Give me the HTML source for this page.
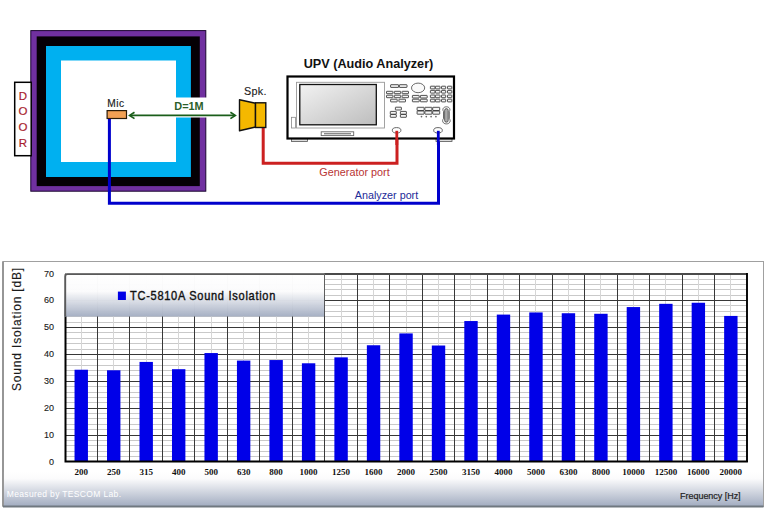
<!DOCTYPE html><html><head><meta charset="utf-8"><style>html,body{margin:0;padding:0;background:#fff;width:773px;height:517px;overflow:hidden}svg{display:block}</style></head><body>
<svg width="773" height="517" viewBox="0 0 773 517">
<defs><linearGradient id="lg" x1="0" y1="0" x2="0" y2="1"><stop offset="0" stop-color="#ffffff"/><stop offset="0.42" stop-color="#fbfbfc"/><stop offset="1" stop-color="#a5afc3"/></linearGradient><linearGradient id="bg" x1="0" y1="0" x2="0" y2="1"><stop offset="0" stop-color="#ffffff"/><stop offset="0.2" stop-color="#fbfbfc"/><stop offset="1" stop-color="#a3adc1"/></linearGradient><linearGradient id="scr" x1="0" y1="0" x2="1" y2="1"><stop offset="0" stop-color="#f2f2f2"/><stop offset="1" stop-color="#bdbdbd"/></linearGradient></defs>
<rect x="30.8" y="30.6" width="175" height="160.6" fill="#7030a0" stroke="#1a0530" stroke-width="1"/>
<rect x="36.7" y="36.4" width="163.1" height="149.7" fill="#050005"/>
<rect x="46" y="46" width="144.9" height="131" fill="#00b0f0"/>
<rect x="61" y="60.5" width="115" height="101.5" fill="#ffffff"/>
<rect x="170" y="97.5" width="40" height="20" fill="#ffffff"/>
<rect x="14.7" y="82.3" width="16.5" height="73.4" fill="#ffffff" stroke="#000" stroke-width="1.5"/>
<text x="23" y="99.9" font-family='"Liberation Sans", sans-serif' font-size="11.5" fill="#a81c2c" stroke="#a81c2c" stroke-width="0.18" text-anchor="middle">D</text>
<text x="23" y="115.2" font-family='"Liberation Sans", sans-serif' font-size="11.5" fill="#a81c2c" stroke="#a81c2c" stroke-width="0.18" text-anchor="middle">O</text>
<text x="23" y="131.2" font-family='"Liberation Sans", sans-serif' font-size="11.5" fill="#a81c2c" stroke="#a81c2c" stroke-width="0.18" text-anchor="middle">O</text>
<text x="23" y="146.9" font-family='"Liberation Sans", sans-serif' font-size="11.5" fill="#a81c2c" stroke="#a81c2c" stroke-width="0.18" text-anchor="middle">R</text>
<text x="107.2" y="107" font-family='"Liberation Sans", sans-serif' font-size="10.2" fill="#1a1a1a" stroke="#1a1a1a" stroke-width="0.15" textLength="17" lengthAdjust="spacing">Mic</text>
<rect x="107.1" y="110.6" width="19.4" height="7.9" fill="#f2a054" stroke="#2a1a08" stroke-width="1.2"/>
<line x1="130" y1="115.4" x2="235" y2="115.4" stroke="#1a5e1a" stroke-width="1.6"/>
<path d="M134.5 112.2 L129.6 115.4 L134.5 118.6" fill="none" stroke="#1a5e1a" stroke-width="1.7"/>
<path d="M230.4 112.2 L235.3 115.4 L230.4 118.6" fill="none" stroke="#1a5e1a" stroke-width="1.7"/>
<text x="174.3" y="110.2" font-family='"Liberation Sans", sans-serif' font-size="10" font-weight="bold" fill="#2a5e2a" textLength="29.4" lengthAdjust="spacingAndGlyphs">D=1M</text>
<polyline points="109.4,119 109.4,203.2 438.5,203.2 438.5,131" fill="none" stroke="#0000cc" stroke-width="3"/>
<polyline points="263.2,127 263.2,163.3 397,163.3 397,131" fill="none" stroke="#cc2020" stroke-width="3"/>
<text x="244" y="94.8" font-family='"Liberation Sans", sans-serif' font-size="10.8" fill="#1a1a1a" stroke="#1a1a1a" stroke-width="0.12" textLength="22.5" lengthAdjust="spacing">Spk.</text>
<path d="M239.5 99.8 L255.5 103.3 L255.5 127 L239.5 130.8 Z" fill="#f5b800" stroke="#111" stroke-width="1.4" stroke-linejoin="round"/>
<rect x="255.5" y="102.8" width="10.3" height="24.7" fill="#f5b800" stroke="#111" stroke-width="1.4"/>
<text x="303.7" y="68" font-family='"Liberation Sans", sans-serif' font-size="12.8" font-weight="bold" fill="#111" textLength="129.6" lengthAdjust="spacingAndGlyphs">UPV (Audio Analyzer)</text>
<rect x="291.5" y="138" width="16" height="3.5" fill="#ddd" stroke="#555" stroke-width="0.8"/>
<rect x="436" y="138" width="16" height="3.5" fill="#ddd" stroke="#555" stroke-width="0.8"/>
<rect x="287.5" y="76.5" width="166.5" height="62" fill="#fff" stroke="#000" stroke-width="2.2"/>
<rect x="296.5" y="82.3" width="88" height="45.7" fill="#fff" stroke="#999" stroke-width="0.9"/>
<rect x="299.8" y="84.5" width="76.5" height="40.3" fill="url(#scr)" stroke="#111" stroke-width="1.3"/>
<rect x="291.5" y="117.3" width="4" height="10.7" fill="#fff" stroke="#888" stroke-width="0.8"/>
<rect x="321.2" y="131.8" width="32.5" height="3.8" fill="#fff" stroke="#666" stroke-width="0.9"/>
<rect x="324" y="133" width="27" height="1.4" fill="#888"/>
<rect x="390.60" y="84.70" width="8.00" height="2.70" rx="0.4" fill="#f4f4f4" stroke="#333" stroke-width="0.85"/>
<rect x="399.40" y="84.70" width="7.60" height="2.70" rx="0.4" fill="#f4f4f4" stroke="#333" stroke-width="0.85"/>
<rect x="386.50" y="91.30" width="6.40" height="2.40" rx="0.4" fill="#f4f4f4" stroke="#333" stroke-width="0.85"/>
<rect x="394.30" y="91.30" width="6.40" height="2.40" rx="0.4" fill="#f4f4f4" stroke="#333" stroke-width="0.85"/>
<rect x="402.10" y="91.30" width="6.40" height="2.40" rx="0.4" fill="#f4f4f4" stroke="#333" stroke-width="0.85"/>
<rect x="386.50" y="95.20" width="6.40" height="2.50" rx="0.4" fill="#f4f4f4" stroke="#333" stroke-width="0.85"/>
<rect x="394.30" y="95.20" width="6.40" height="2.50" rx="0.4" fill="#f4f4f4" stroke="#333" stroke-width="0.85"/>
<rect x="402.10" y="95.20" width="6.40" height="2.50" rx="0.4" fill="#f4f4f4" stroke="#333" stroke-width="0.85"/>
<rect x="390.60" y="99.20" width="6.60" height="2.70" rx="0.4" fill="#f4f4f4" stroke="#333" stroke-width="0.85"/>
<rect x="398.90" y="99.20" width="6.60" height="2.70" rx="0.4" fill="#f4f4f4" stroke="#333" stroke-width="0.85"/>
<ellipse cx="418.1" cy="87.9" rx="6.6" ry="4.8" fill="#fafafa" stroke="#444" stroke-width="0.8"/>
<rect x="412.40" y="95.40" width="6.80" height="2.60" rx="0.4" fill="#f4f4f4" stroke="#333" stroke-width="0.85"/>
<rect x="420.40" y="95.40" width="6.80" height="2.60" rx="0.4" fill="#f4f4f4" stroke="#333" stroke-width="0.85"/>
<rect x="412.40" y="99.20" width="6.80" height="2.60" rx="0.4" fill="#f4f4f4" stroke="#333" stroke-width="0.85"/>
<rect x="420.40" y="99.20" width="6.80" height="2.60" rx="0.4" fill="#f4f4f4" stroke="#333" stroke-width="0.85"/>
<rect x="430.40" y="86.20" width="4.60" height="2.70" rx="0.4" fill="#f4f4f4" stroke="#333" stroke-width="0.85"/>
<rect x="435.40" y="86.20" width="4.60" height="2.70" rx="0.4" fill="#f4f4f4" stroke="#333" stroke-width="0.85"/>
<rect x="441.50" y="86.20" width="4.20" height="2.70" rx="0.4" fill="#f4f4f4" stroke="#333" stroke-width="0.85"/>
<rect x="447.50" y="86.20" width="4.30" height="2.70" rx="0.4" fill="#f4f4f4" stroke="#333" stroke-width="0.85"/>
<rect x="430.40" y="90.40" width="4.60" height="2.70" rx="0.4" fill="#f4f4f4" stroke="#333" stroke-width="0.85"/>
<rect x="435.40" y="90.40" width="4.60" height="2.70" rx="0.4" fill="#f4f4f4" stroke="#333" stroke-width="0.85"/>
<rect x="441.50" y="90.40" width="4.20" height="2.70" rx="0.4" fill="#f4f4f4" stroke="#333" stroke-width="0.85"/>
<rect x="447.50" y="90.40" width="4.30" height="2.70" rx="0.4" fill="#f4f4f4" stroke="#333" stroke-width="0.85"/>
<rect x="430.40" y="95.00" width="4.60" height="2.70" rx="0.4" fill="#f4f4f4" stroke="#333" stroke-width="0.85"/>
<rect x="435.40" y="95.00" width="4.60" height="2.70" rx="0.4" fill="#f4f4f4" stroke="#333" stroke-width="0.85"/>
<rect x="441.50" y="95.00" width="4.20" height="2.70" rx="0.4" fill="#f4f4f4" stroke="#333" stroke-width="0.85"/>
<rect x="447.50" y="95.00" width="4.30" height="2.70" rx="0.4" fill="#f4f4f4" stroke="#333" stroke-width="0.85"/>
<rect x="430.40" y="99.20" width="4.60" height="2.70" rx="0.4" fill="#f4f4f4" stroke="#333" stroke-width="0.85"/>
<rect x="435.40" y="99.20" width="4.60" height="2.70" rx="0.4" fill="#f4f4f4" stroke="#333" stroke-width="0.85"/>
<rect x="441.50" y="99.20" width="4.20" height="2.70" rx="0.4" fill="#f4f4f4" stroke="#333" stroke-width="0.85"/>
<rect x="447.50" y="99.20" width="4.30" height="2.70" rx="0.4" fill="#f4f4f4" stroke="#333" stroke-width="0.85"/>
<rect x="395.40" y="107.20" width="6.00" height="2.80" rx="0.4" fill="#f4f4f4" stroke="#333" stroke-width="0.85"/>
<rect x="390.30" y="111.40" width="6.00" height="2.80" rx="0.4" fill="#f4f4f4" stroke="#333" stroke-width="0.85"/>
<rect x="390.30" y="114.50" width="6.00" height="2.80" rx="0.4" fill="#f4f4f4" stroke="#333" stroke-width="0.85"/>
<rect x="400.40" y="111.40" width="6.00" height="2.80" rx="0.4" fill="#f4f4f4" stroke="#333" stroke-width="0.85"/>
<rect x="400.40" y="114.50" width="6.00" height="2.80" rx="0.4" fill="#f4f4f4" stroke="#333" stroke-width="0.85"/>
<rect x="417.10" y="107.30" width="7.00" height="3.20" rx="0.4" fill="#f4f4f4" stroke="#333" stroke-width="0.85"/>
<rect x="424.90" y="107.30" width="7.00" height="3.20" rx="0.4" fill="#f4f4f4" stroke="#333" stroke-width="0.85"/>
<rect x="432.70" y="107.30" width="7.00" height="3.20" rx="0.4" fill="#f4f4f4" stroke="#333" stroke-width="0.85"/>
<rect x="417.10" y="111.00" width="7.00" height="3.20" rx="0.4" fill="#f4f4f4" stroke="#333" stroke-width="0.85"/>
<rect x="424.90" y="111.00" width="7.00" height="3.20" rx="0.4" fill="#f4f4f4" stroke="#333" stroke-width="0.85"/>
<rect x="432.70" y="111.00" width="7.00" height="3.20" rx="0.4" fill="#f4f4f4" stroke="#333" stroke-width="0.85"/>
<circle cx="421.50" cy="116.6" r="0.85" fill="#666"/>
<circle cx="426.30" cy="116.6" r="0.85" fill="#666"/>
<circle cx="431.10" cy="116.6" r="0.85" fill="#666"/>
<circle cx="435.90" cy="116.6" r="0.85" fill="#666"/>
<path d="M446.4 106.8 C449.5 106.8 450.8 109.5 449.3 111.3 L449.3 118.8 C451.2 120.5 450 123.9 446.4 123.9 C442.8 123.9 441.6 120.5 443.5 118.8 L443.5 111.3 C442 109.5 443.3 106.8 446.4 106.8 Z" fill="#fff" stroke="#444" stroke-width="0.8"/>
<rect x="444.6" y="108.6" width="3.6" height="13.6" rx="1.8" fill="#aaa" stroke="#333" stroke-width="0.7"/>
<ellipse cx="396.6" cy="130.3" rx="4.3" ry="2.7" fill="#fff" stroke="#555" stroke-width="0.9"/>
<ellipse cx="438" cy="130.3" rx="4.3" ry="2.7" fill="#fff" stroke="#555" stroke-width="0.9"/>
<line x1="396.8" y1="130.8" x2="396.8" y2="145" stroke="#cc2020" stroke-width="2.8"/>
<line x1="438.3" y1="130.8" x2="438.3" y2="145" stroke="#0000cc" stroke-width="2.8"/>
<text x="319.3" y="175.5" font-family='"Liberation Sans", sans-serif' font-size="10.2" fill="#b83434" textLength="70.4" lengthAdjust="spacingAndGlyphs">Generator port</text>
<text x="354.8" y="199.3" font-family='"Liberation Sans", sans-serif' font-size="10.2" fill="#1c2a98" textLength="63.4" lengthAdjust="spacingAndGlyphs">Analyzer port</text>
<rect x="3" y="261.5" width="760.5" height="245.0" fill="#fff" stroke="#a0a0a0" stroke-width="1"/>
<rect x="3.5" y="472" width="759.5" height="34.0" fill="url(#bg)"/>
<line x1="3" y1="261.5" x2="3" y2="506.5" stroke="#909090" stroke-width="1.8"/>
<line x1="3" y1="506.5" x2="763.5" y2="506.5" stroke="#707880" stroke-width="1.8"/>
<rect x="65.0" y="274.0" width="682.0" height="188.0" fill="#fff"/>
<line x1="65.0" y1="456.5" x2="747.0" y2="456.5" stroke="#c9c9c9" stroke-width="1"/>
<line x1="65.0" y1="451.5" x2="747.0" y2="451.5" stroke="#c9c9c9" stroke-width="1"/>
<line x1="65.0" y1="445.5" x2="747.0" y2="445.5" stroke="#c9c9c9" stroke-width="1"/>
<line x1="65.0" y1="440.5" x2="747.0" y2="440.5" stroke="#c9c9c9" stroke-width="1"/>
<line x1="65.0" y1="429.5" x2="747.0" y2="429.5" stroke="#c9c9c9" stroke-width="1"/>
<line x1="65.0" y1="424.5" x2="747.0" y2="424.5" stroke="#c9c9c9" stroke-width="1"/>
<line x1="65.0" y1="418.5" x2="747.0" y2="418.5" stroke="#c9c9c9" stroke-width="1"/>
<line x1="65.0" y1="413.5" x2="747.0" y2="413.5" stroke="#c9c9c9" stroke-width="1"/>
<line x1="65.0" y1="402.5" x2="747.0" y2="402.5" stroke="#c9c9c9" stroke-width="1"/>
<line x1="65.0" y1="397.5" x2="747.0" y2="397.5" stroke="#c9c9c9" stroke-width="1"/>
<line x1="65.0" y1="392.5" x2="747.0" y2="392.5" stroke="#c9c9c9" stroke-width="1"/>
<line x1="65.0" y1="386.5" x2="747.0" y2="386.5" stroke="#c9c9c9" stroke-width="1"/>
<line x1="65.0" y1="375.5" x2="747.0" y2="375.5" stroke="#c9c9c9" stroke-width="1"/>
<line x1="65.0" y1="370.5" x2="747.0" y2="370.5" stroke="#c9c9c9" stroke-width="1"/>
<line x1="65.0" y1="365.5" x2="747.0" y2="365.5" stroke="#c9c9c9" stroke-width="1"/>
<line x1="65.0" y1="359.5" x2="747.0" y2="359.5" stroke="#c9c9c9" stroke-width="1"/>
<line x1="65.0" y1="349.5" x2="747.0" y2="349.5" stroke="#c9c9c9" stroke-width="1"/>
<line x1="65.0" y1="343.5" x2="747.0" y2="343.5" stroke="#c9c9c9" stroke-width="1"/>
<line x1="65.0" y1="338.5" x2="747.0" y2="338.5" stroke="#c9c9c9" stroke-width="1"/>
<line x1="65.0" y1="332.5" x2="747.0" y2="332.5" stroke="#c9c9c9" stroke-width="1"/>
<line x1="65.0" y1="322.5" x2="747.0" y2="322.5" stroke="#c9c9c9" stroke-width="1"/>
<line x1="65.0" y1="316.5" x2="747.0" y2="316.5" stroke="#c9c9c9" stroke-width="1"/>
<line x1="65.0" y1="311.5" x2="747.0" y2="311.5" stroke="#c9c9c9" stroke-width="1"/>
<line x1="65.0" y1="305.5" x2="747.0" y2="305.5" stroke="#c9c9c9" stroke-width="1"/>
<line x1="65.0" y1="295.5" x2="747.0" y2="295.5" stroke="#c9c9c9" stroke-width="1"/>
<line x1="65.0" y1="289.5" x2="747.0" y2="289.5" stroke="#c9c9c9" stroke-width="1"/>
<line x1="65.0" y1="284.5" x2="747.0" y2="284.5" stroke="#c9c9c9" stroke-width="1"/>
<line x1="65.0" y1="279.5" x2="747.0" y2="279.5" stroke="#c9c9c9" stroke-width="1"/>
<line x1="81.5" y1="274.0" x2="81.5" y2="462.0" stroke="#d6d6d6" stroke-width="1"/>
<line x1="113.5" y1="274.0" x2="113.5" y2="462.0" stroke="#d6d6d6" stroke-width="1"/>
<line x1="146.5" y1="274.0" x2="146.5" y2="462.0" stroke="#d6d6d6" stroke-width="1"/>
<line x1="178.5" y1="274.0" x2="178.5" y2="462.0" stroke="#d6d6d6" stroke-width="1"/>
<line x1="211.5" y1="274.0" x2="211.5" y2="462.0" stroke="#d6d6d6" stroke-width="1"/>
<line x1="243.5" y1="274.0" x2="243.5" y2="462.0" stroke="#d6d6d6" stroke-width="1"/>
<line x1="276.5" y1="274.0" x2="276.5" y2="462.0" stroke="#d6d6d6" stroke-width="1"/>
<line x1="308.5" y1="274.0" x2="308.5" y2="462.0" stroke="#d6d6d6" stroke-width="1"/>
<line x1="341.5" y1="274.0" x2="341.5" y2="462.0" stroke="#d6d6d6" stroke-width="1"/>
<line x1="373.5" y1="274.0" x2="373.5" y2="462.0" stroke="#d6d6d6" stroke-width="1"/>
<line x1="406.5" y1="274.0" x2="406.5" y2="462.0" stroke="#d6d6d6" stroke-width="1"/>
<line x1="438.5" y1="274.0" x2="438.5" y2="462.0" stroke="#d6d6d6" stroke-width="1"/>
<line x1="470.5" y1="274.0" x2="470.5" y2="462.0" stroke="#d6d6d6" stroke-width="1"/>
<line x1="503.5" y1="274.0" x2="503.5" y2="462.0" stroke="#d6d6d6" stroke-width="1"/>
<line x1="535.5" y1="274.0" x2="535.5" y2="462.0" stroke="#d6d6d6" stroke-width="1"/>
<line x1="568.5" y1="274.0" x2="568.5" y2="462.0" stroke="#d6d6d6" stroke-width="1"/>
<line x1="600.5" y1="274.0" x2="600.5" y2="462.0" stroke="#d6d6d6" stroke-width="1"/>
<line x1="633.5" y1="274.0" x2="633.5" y2="462.0" stroke="#d6d6d6" stroke-width="1"/>
<line x1="665.5" y1="274.0" x2="665.5" y2="462.0" stroke="#d6d6d6" stroke-width="1"/>
<line x1="698.5" y1="274.0" x2="698.5" y2="462.0" stroke="#d6d6d6" stroke-width="1"/>
<line x1="730.5" y1="274.0" x2="730.5" y2="462.0" stroke="#d6d6d6" stroke-width="1"/>
<line x1="65.0" y1="435.5" x2="747.0" y2="435.5" stroke="#383838" stroke-width="1"/>
<line x1="65.0" y1="408.5" x2="747.0" y2="408.5" stroke="#383838" stroke-width="1"/>
<line x1="65.0" y1="381.5" x2="747.0" y2="381.5" stroke="#383838" stroke-width="1"/>
<line x1="65.0" y1="354.5" x2="747.0" y2="354.5" stroke="#383838" stroke-width="1"/>
<line x1="65.0" y1="327.5" x2="747.0" y2="327.5" stroke="#383838" stroke-width="1"/>
<line x1="65.0" y1="300.5" x2="747.0" y2="300.5" stroke="#383838" stroke-width="1"/>
<line x1="97.5" y1="274.0" x2="97.5" y2="462.0" stroke="#383838" stroke-width="1"/>
<line x1="129.5" y1="274.0" x2="129.5" y2="462.0" stroke="#383838" stroke-width="1"/>
<line x1="162.5" y1="274.0" x2="162.5" y2="462.0" stroke="#383838" stroke-width="1"/>
<line x1="194.5" y1="274.0" x2="194.5" y2="462.0" stroke="#383838" stroke-width="1"/>
<line x1="227.5" y1="274.0" x2="227.5" y2="462.0" stroke="#383838" stroke-width="1"/>
<line x1="259.5" y1="274.0" x2="259.5" y2="462.0" stroke="#383838" stroke-width="1"/>
<line x1="292.5" y1="274.0" x2="292.5" y2="462.0" stroke="#383838" stroke-width="1"/>
<line x1="324.5" y1="274.0" x2="324.5" y2="462.0" stroke="#383838" stroke-width="1"/>
<line x1="357.5" y1="274.0" x2="357.5" y2="462.0" stroke="#383838" stroke-width="1"/>
<line x1="389.5" y1="274.0" x2="389.5" y2="462.0" stroke="#383838" stroke-width="1"/>
<line x1="422.5" y1="274.0" x2="422.5" y2="462.0" stroke="#383838" stroke-width="1"/>
<line x1="454.5" y1="274.0" x2="454.5" y2="462.0" stroke="#383838" stroke-width="1"/>
<line x1="487.5" y1="274.0" x2="487.5" y2="462.0" stroke="#383838" stroke-width="1"/>
<line x1="519.5" y1="274.0" x2="519.5" y2="462.0" stroke="#383838" stroke-width="1"/>
<line x1="552.5" y1="274.0" x2="552.5" y2="462.0" stroke="#383838" stroke-width="1"/>
<line x1="584.5" y1="274.0" x2="584.5" y2="462.0" stroke="#383838" stroke-width="1"/>
<line x1="617.5" y1="274.0" x2="617.5" y2="462.0" stroke="#383838" stroke-width="1"/>
<line x1="649.5" y1="274.0" x2="649.5" y2="462.0" stroke="#383838" stroke-width="1"/>
<line x1="682.5" y1="274.0" x2="682.5" y2="462.0" stroke="#383838" stroke-width="1"/>
<line x1="714.5" y1="274.0" x2="714.5" y2="462.0" stroke="#383838" stroke-width="1"/>
<rect x="74.54" y="369.73" width="13.4" height="92.27" fill="#0000e8"/>
<text x="81.24" y="475.3" font-family='"Liberation Serif", serif' font-size="9" font-weight="bold" fill="#111" text-anchor="middle">200</text>
<rect x="107.02" y="370.27" width="13.4" height="91.73" fill="#0000e8"/>
<text x="113.72" y="475.3" font-family='"Liberation Serif", serif' font-size="9" font-weight="bold" fill="#111" text-anchor="middle">250</text>
<rect x="139.50" y="361.93" width="13.4" height="100.07" fill="#0000e8"/>
<text x="146.20" y="475.3" font-family='"Liberation Serif", serif' font-size="9" font-weight="bold" fill="#111" text-anchor="middle">315</text>
<rect x="171.98" y="369.19" width="13.4" height="92.81" fill="#0000e8"/>
<text x="178.68" y="475.3" font-family='"Liberation Serif", serif' font-size="9" font-weight="bold" fill="#111" text-anchor="middle">400</text>
<rect x="204.46" y="353.06" width="13.4" height="108.94" fill="#0000e8"/>
<text x="211.16" y="475.3" font-family='"Liberation Serif", serif' font-size="9" font-weight="bold" fill="#111" text-anchor="middle">500</text>
<rect x="236.94" y="360.59" width="13.4" height="101.41" fill="#0000e8"/>
<text x="243.64" y="475.3" font-family='"Liberation Serif", serif' font-size="9" font-weight="bold" fill="#111" text-anchor="middle">630</text>
<rect x="269.42" y="360.05" width="13.4" height="101.95" fill="#0000e8"/>
<text x="276.12" y="475.3" font-family='"Liberation Serif", serif' font-size="9" font-weight="bold" fill="#111" text-anchor="middle">800</text>
<rect x="301.90" y="363.28" width="13.4" height="98.72" fill="#0000e8"/>
<text x="308.60" y="475.3" font-family='"Liberation Serif", serif' font-size="9" font-weight="bold" fill="#111" text-anchor="middle">1000</text>
<rect x="334.38" y="357.36" width="13.4" height="104.64" fill="#0000e8"/>
<text x="341.08" y="475.3" font-family='"Liberation Serif", serif' font-size="9" font-weight="bold" fill="#111" text-anchor="middle">1250</text>
<rect x="366.86" y="345.25" width="13.4" height="116.75" fill="#0000e8"/>
<text x="373.56" y="475.3" font-family='"Liberation Serif", serif' font-size="9" font-weight="bold" fill="#111" text-anchor="middle">1600</text>
<rect x="399.34" y="333.42" width="13.4" height="128.58" fill="#0000e8"/>
<text x="406.04" y="475.3" font-family='"Liberation Serif", serif' font-size="9" font-weight="bold" fill="#111" text-anchor="middle">2000</text>
<rect x="431.82" y="345.52" width="13.4" height="116.48" fill="#0000e8"/>
<text x="438.52" y="475.3" font-family='"Liberation Serif", serif' font-size="9" font-weight="bold" fill="#111" text-anchor="middle">2500</text>
<rect x="464.30" y="321.04" width="13.4" height="140.96" fill="#0000e8"/>
<text x="471.00" y="475.3" font-family='"Liberation Serif", serif' font-size="9" font-weight="bold" fill="#111" text-anchor="middle">3150</text>
<rect x="496.78" y="314.59" width="13.4" height="147.41" fill="#0000e8"/>
<text x="503.48" y="475.3" font-family='"Liberation Serif", serif' font-size="9" font-weight="bold" fill="#111" text-anchor="middle">4000</text>
<rect x="529.26" y="312.44" width="13.4" height="149.56" fill="#0000e8"/>
<text x="535.96" y="475.3" font-family='"Liberation Serif", serif' font-size="9" font-weight="bold" fill="#111" text-anchor="middle">5000</text>
<rect x="561.74" y="313.24" width="13.4" height="148.76" fill="#0000e8"/>
<text x="568.44" y="475.3" font-family='"Liberation Serif", serif' font-size="9" font-weight="bold" fill="#111" text-anchor="middle">6300</text>
<rect x="594.22" y="313.78" width="13.4" height="148.22" fill="#0000e8"/>
<text x="600.92" y="475.3" font-family='"Liberation Serif", serif' font-size="9" font-weight="bold" fill="#111" text-anchor="middle">8000</text>
<rect x="626.70" y="307.06" width="13.4" height="154.94" fill="#0000e8"/>
<text x="633.40" y="475.3" font-family='"Liberation Serif", serif' font-size="9" font-weight="bold" fill="#111" text-anchor="middle">10000</text>
<rect x="659.18" y="303.83" width="13.4" height="158.17" fill="#0000e8"/>
<text x="665.88" y="475.3" font-family='"Liberation Serif", serif' font-size="9" font-weight="bold" fill="#111" text-anchor="middle">12500</text>
<rect x="691.66" y="302.75" width="13.4" height="159.25" fill="#0000e8"/>
<text x="698.36" y="475.3" font-family='"Liberation Serif", serif' font-size="9" font-weight="bold" fill="#111" text-anchor="middle">16000</text>
<rect x="724.14" y="315.93" width="13.4" height="146.07" fill="#0000e8"/>
<text x="730.84" y="475.3" font-family='"Liberation Serif", serif' font-size="9" font-weight="bold" fill="#111" text-anchor="middle">20000</text>
<path d="M65.0 274.0 H747.0" fill="none" stroke="#4a4a4a" stroke-width="1.8"/>
<path d="M747.0 273.1 V462.0" fill="none" stroke="#000" stroke-width="1.9"/>
<path d="M65.5 274.0 V461.5 H747.9" fill="none" stroke="#000" stroke-width="2"/>
<path d="M64 316.4 V276 Q64 273.2 66.8 273.2 H324.2 V316.4 Z" fill="url(#lg)" fill-opacity="0.985"/>
<path d="M65.2 316.4 V276.5 Q65.2 274.1 67.6 274.1 H324.2" fill="none" stroke="#5a5a5a" stroke-width="1.9"/>
<rect x="117.9" y="291.6" width="8" height="8.4" fill="#0000e6"/>
<g transform="translate(130,299.7) scale(0.92,1)"><text x="0" y="0" font-family='"Liberation Sans", sans-serif' font-size="12" fill="#111" stroke="#111" stroke-width="0.38" textLength="158" lengthAdjust="spacing">TC-5810A Sound Isolation</text></g>
<text x="54" y="464.80" font-family='"Liberation Sans", sans-serif' font-size="9" fill="#1a1a1a" stroke="#1a1a1a" stroke-width="0.12" text-anchor="end">0</text>
<text x="54" y="437.90" font-family='"Liberation Sans", sans-serif' font-size="9" fill="#1a1a1a" stroke="#1a1a1a" stroke-width="0.12" text-anchor="end">10</text>
<text x="54" y="411.00" font-family='"Liberation Sans", sans-serif' font-size="9" fill="#1a1a1a" stroke="#1a1a1a" stroke-width="0.12" text-anchor="end">20</text>
<text x="54" y="384.10" font-family='"Liberation Sans", sans-serif' font-size="9" fill="#1a1a1a" stroke="#1a1a1a" stroke-width="0.12" text-anchor="end">30</text>
<text x="54" y="357.20" font-family='"Liberation Sans", sans-serif' font-size="9" fill="#1a1a1a" stroke="#1a1a1a" stroke-width="0.12" text-anchor="end">40</text>
<text x="54" y="330.30" font-family='"Liberation Sans", sans-serif' font-size="9" fill="#1a1a1a" stroke="#1a1a1a" stroke-width="0.12" text-anchor="end">50</text>
<text x="54" y="303.40" font-family='"Liberation Sans", sans-serif' font-size="9" fill="#1a1a1a" stroke="#1a1a1a" stroke-width="0.12" text-anchor="end">60</text>
<text x="54" y="276.50" font-family='"Liberation Sans", sans-serif' font-size="9" fill="#1a1a1a" stroke="#1a1a1a" stroke-width="0.12" text-anchor="end">70</text>
<text transform="translate(20.9,391) rotate(-90)" x="0" y="0" font-family='"Liberation Sans", sans-serif' font-size="12" fill="#1a1a1a" stroke="#1a1a1a" stroke-width="0.15" textLength="123.2" lengthAdjust="spacing">Sound Isolation [dB]</text>
<text x="680.1" y="499.1" font-family='"Liberation Sans", sans-serif' font-size="9" fill="#222" stroke="#222" stroke-width="0.2" textLength="60.5" lengthAdjust="spacing">Frequency [Hz]</text>
<text x="6.8" y="496.5" font-family='"Liberation Sans", sans-serif' font-size="8.5" fill="#fff" textLength="114.2" lengthAdjust="spacing">Measured by TESCOM Lab.</text>
</svg></body></html>
